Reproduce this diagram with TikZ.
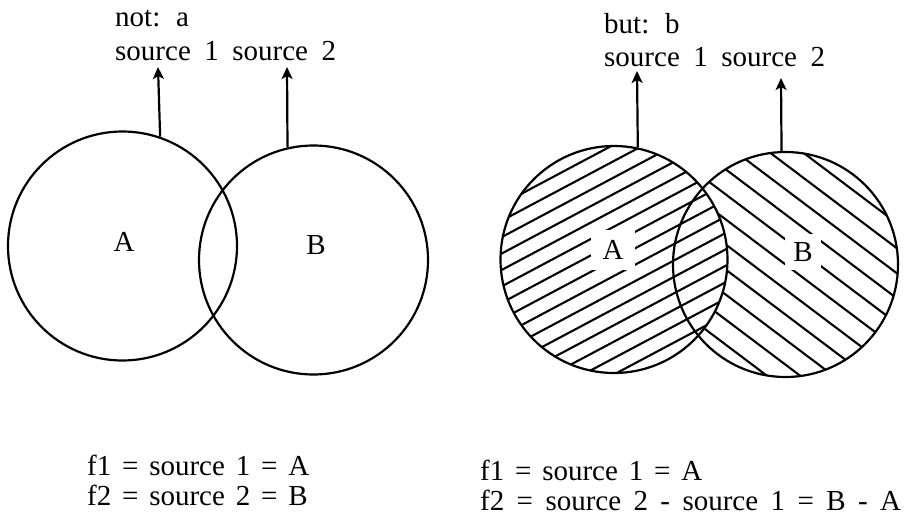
\documentclass[tikz,border=0pt]{standalone}
\usepackage{fontspec}
\setmainfont{Liberation Serif}
\usetikzlibrary{arrows.meta}
\newcommand\wsTop{\spaceskip 13.5pt\relax}
\newcommand\wsLow{\spaceskip 10.8pt\relax}
\newcommand\wsMid{\spaceskip 12.4pt\relax}
\begin{document}
\begin{tikzpicture}[x=1pt,y=-1pt,
  txt/.style={anchor=base west,inner sep=0pt},
  ftop/.style={font=\fontsize{29}{34}\selectfont\wsTop},
  flow/.style={font=\fontsize{29}{34}\selectfont\wsLow},
  fmid/.style={font=\fontsize{29}{34}\selectfont\wsMid},
  lbl/.style={inner sep=0pt,font=\fontsize{29}{34}\selectfont},
  vc/.style={circle,draw,line width=2.2pt,inner sep=0pt},
  upar/.style={line width=2.2pt,-{Stealth[length=12pt,width=11pt,inset=3pt]}},
  hatch/.style={line width=2.1pt}]
\useasboundingbox (0,0) rectangle (906,522);
% ---------- left diagram ----------
\node[txt,ftop] (t1) at (115,27) {not: a};
\node[txt,ftop] (t2) at (115,60) {source 1 source 2};
\node[vc,minimum size=229pt] (LA) at (122.5,246) {};
\node[vc,minimum size=229pt] (LB) at (313.5,260) {};
\node[lbl] (la) at (124,242) {A};
\node[lbl] (lb) at (316,245) {B};
\coordinate (LAt) at (158,67);
\coordinate (LBt) at (287,67);
\draw[upar] (LA.71.9) -- (LAt);
\draw[upar] (LB.103.4) -- (LBt);
% ---------- right diagram ----------
\node[txt,ftop] (t3) at (604,33) {but: b};
\node[txt,ftop] (t4) at (604,66) {source 1 source 2};
% hatching of A
\begin{scope}
  \clip (614,259.5) circle (113.5pt);
  \foreach \k in {-9,...,9}
    \draw[hatch] ({614+\k*14.5*sin(28)-140*cos(28)},{259.5+\k*14.5*cos(28)+140*sin(28)})
              -- ({614+\k*14.5*sin(28)+140*cos(28)},{259.5+\k*14.5*cos(28)-140*sin(28)});
\end{scope}
% hatching of B minus A
\begin{scope}
  \clip (785.5,264.5) circle (112.5pt);
  \begin{scope}[even odd rule]
  \clip (785.5,264.5) circle (112.5pt) (614,259.5) circle (113.5pt);
  \foreach \k in {-7,...,7}
    \draw[hatch] ({785.5-\k*20*sin(37)-140*cos(37)},{264.5+\k*20*cos(37)-140*sin(37)})
              -- ({785.5-\k*20*sin(37)+140*cos(37)},{264.5+\k*20*cos(37)+140*sin(37)});
  \end{scope}
\end{scope}
\node[lbl,fill=white,inner xsep=12pt,inner ysep=10pt] (ra) at (613,250) {A};
\node[lbl,fill=white,inner sep=8pt] (rb) at (803,252) {B};
\node[vc,minimum size=227pt] (RA) at (614,259.5) {};
\node[vc,minimum size=225pt] (RB) at (785.5,264.5) {};
\coordinate (RAt) at (637,71);
\coordinate (RBt) at (781,78);
\draw[upar] (RA.78.3) -- (RAt);
\draw[upar] (RB.92.3) -- (RBt);
% ---------- bottom formulas ----------
\node[txt,flow] (f1) at (87,475) {f1 = source 1 = A};
\node[txt,flow] (f2) at (87,505) {f2 = source 2 = B};
\node[txt,flow] (f3) at (480,480) {f1 = source 1 = A};
\node[txt,fmid] (f4) at (480,510) {f2 = source 2 - source 1 = B - A};
\end{tikzpicture}
\end{document}
